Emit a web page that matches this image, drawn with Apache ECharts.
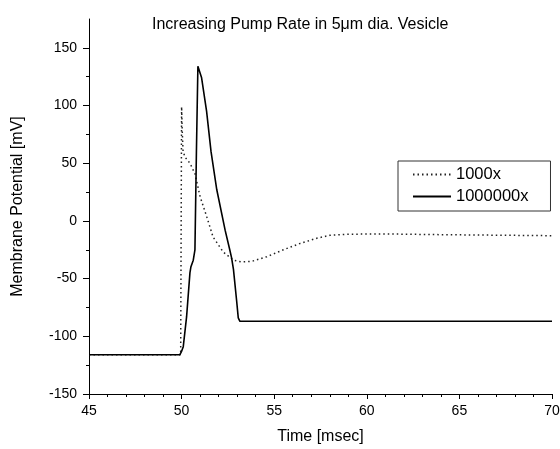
<!DOCTYPE html>
<html>
<head>
<meta charset="utf-8">
<script src="https://cdn.jsdelivr.net/npm/echarts@6/dist/echarts.min.js"></script>
<style>
  html, body { margin: 0; padding: 0; background: #fff; }
  #main { width: 560px; height: 449px; }
</style>
</head>
<body>
<div id="main"></div>
<script>
// time [msec], membrane potential [mV]
var pumpSlow = [
    [45, -116], [49.95, -116], [50.0, 99], [50.03, 80], [50.08, 60], [50.2, 55],
    [50.45, 50], [50.72, 41], [51.0, 21], [51.35, 4], [51.7, -14], [52.25, -27],
    [52.8, -34], [53.2, -35.5], [53.8, -35], [54.6, -31], [55.5, -25], [56.4, -19.5],
    [57.3, -15], [58.0, -12.5], [59.0, -11.5], [61.0, -11.3], [64.5, -12], [70, -12.8]
];
var pumpFast = [
    [45, -116], [49.9, -116], [50.0, -113], [50.09, -109], [50.27, -83], [50.45, -45],
    [50.5, -40], [50.63, -34], [50.72, -25], [50.8, 60], [50.88, 134], [50.95, 133],
    [51.08, 124], [51.35, 95], [51.59, 60], [51.9, 27], [52.35, -8], [52.6, -25],
    [52.7, -32], [52.8, -42], [52.97, -69], [53.06, -84], [53.15, -87], [70, -87]
];
var seriesNames = ['1000x', '1000000x'];
var yLabels = [-150, -100, -50, 0, 50, 100, 150];
var yMinor = [-125, -75, -25, 25, 75, 125];

var font = 'Liberation Sans, Arial, sans-serif';
var chart = echarts.init(document.getElementById('main'));

var option = {
    animation: false,
    title: {
        text: 'Increasing Pump Rate in 5\u03bcm dia. Vesicle',
        left: 147,
        top: 12,
        textStyle: { fontFamily: font, fontSize: 16, fontWeight: 'normal', color: '#000' }
    },
    legend: {
        orient: 'vertical',
        left: 398,
        top: 161,
        padding: [5, 22, 6, 14],
        itemWidth: 38,
        itemHeight: 14,
        itemGap: 5,
        borderColor: '#333',
        borderWidth: 1,
        itemStyle: { opacity: 0 },
        textStyle: { fontFamily: font, fontSize: 16.5, color: '#000' },
        data: seriesNames
    },
    grid: { left: 89, right: 8, top: 19, bottom: 55, outerBoundsMode: 'none' },
    xAxis: {
        type: 'value',
        min: 45,
        max: 70,
        interval: 5,
        name: 'Time [msec]',
        nameLocation: 'middle',
        nameGap: 35,
        nameTextStyle: { fontFamily: font, fontSize: 16, color: '#000' },
        axisLine: { onZero: false, lineStyle: { color: '#000', width: 1 } },
        axisTick: { length: 5, lineStyle: { color: '#000' } },
        minorTick: { show: true, splitNumber: 5, length: 3, lineStyle: { color: '#000' } },
        axisLabel: { fontFamily: font, fontSize: 14, color: '#000', margin: 10 },
        splitLine: { show: false }
    },
    yAxis: [{
        type: 'value',
        min: -150,
        max: 175,
        name: 'Membrane Potential [mV]',
        nameLocation: 'middle',
        nameGap: 63,
        nameTextStyle: { fontFamily: font, fontSize: 16, color: '#000' },
        axisLine: { show: true, onZero: false, lineStyle: { color: '#000', width: 1 } },
        axisTick: { length: 6, customValues: yLabels, lineStyle: { color: '#000' } },
        axisLabel: { fontFamily: font, fontSize: 14, color: '#000', margin: 12, customValues: yLabels },
        splitLine: { show: false }
    }, {
        type: 'value',
        position: 'left',
        min: -150,
        max: 175,
        axisLine: { show: false },
        axisTick: { show: true, length: 3, customValues: yMinor, lineStyle: { color: '#000' } },
        axisLabel: { show: false },
        splitLine: { show: false }
    }],
    series: [{
        name: seriesNames[0],
        type: 'line',
        showSymbol: false,
        symbol: 'none',
        data: pumpSlow,
        lineStyle: { color: '#222', width: 1.5, type: [1.5, 3] },
        itemStyle: { color: '#222' }
    }, {
        name: seriesNames[1],
        type: 'line',
        showSymbol: false,
        symbol: 'none',
        data: pumpFast,
        lineStyle: { color: '#000', width: 1.6 },
        itemStyle: { color: '#000' }
    }]
};

chart.setOption(option);
</script>
</body>
</html>
